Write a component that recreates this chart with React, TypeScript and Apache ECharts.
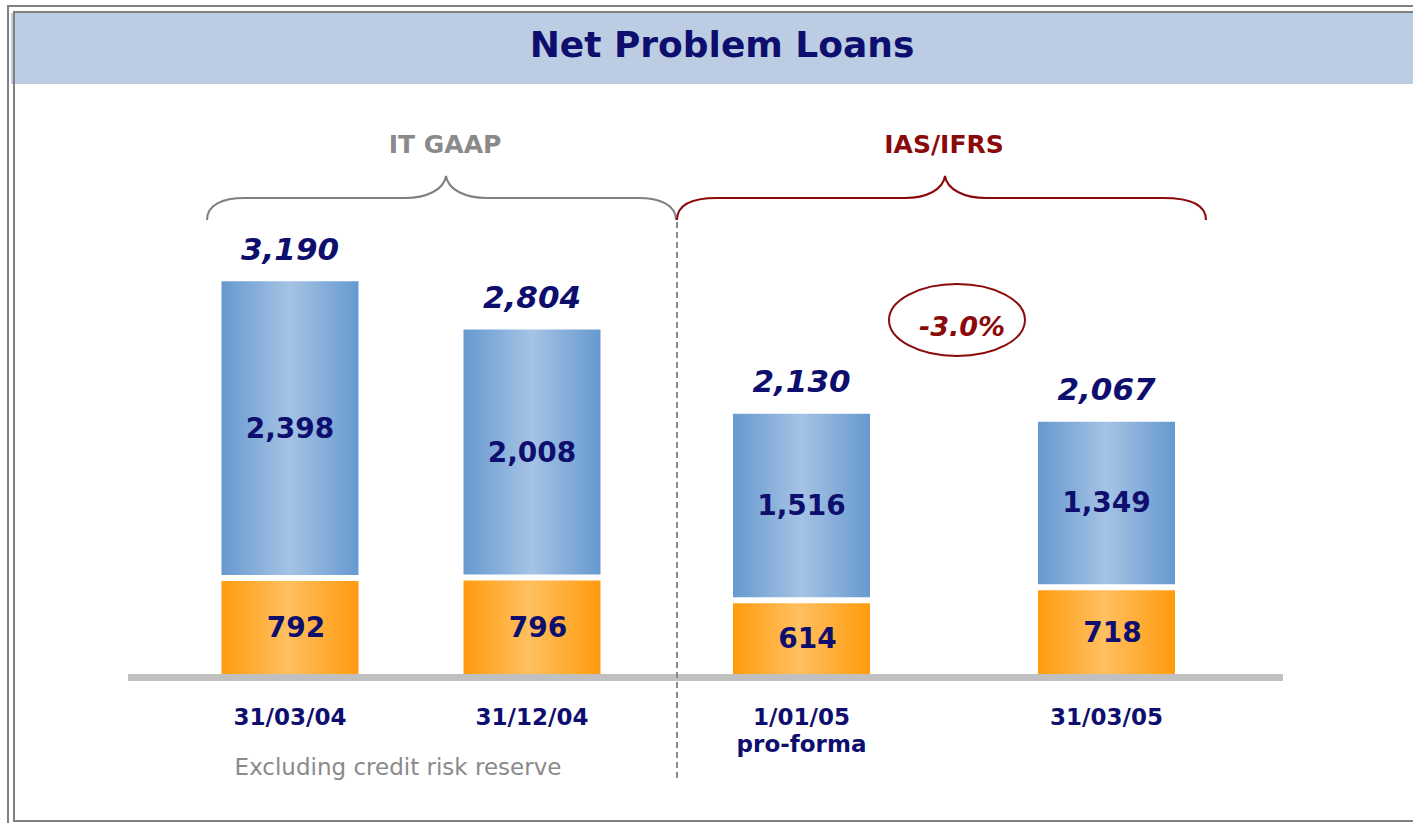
import React, { useEffect, useRef } from "react";
import * as echarts from "echarts";

// ---- data ----
const titleText = "Net Problem Loans";
const groupLabels = ["IT GAAP", "IAS/IFRS"];
const categoriesGAAP = ["31/03/04", "31/12/04"];
const categoriesIFRS = ["1/01/05\npro-forma", "31/03/05"];
const bottomGAAP = [792, 796];
const topGAAP = [2398, 2008];
const bottomIFRS = [614, 718];
const topIFRS = [1516, 1349];
const changeLabel = "-3.0%";
const noteText = "Excluding credit risk reserve";

const NAVY = "#0e0e6e";
const DARKRED = "#8a0a0a";
const GRAY = "#8a8a8a";
const FONT = "DejaVu Sans";

const BRACE_GRAY =
  "M207,220 C207,205 222,198 245,198 L405,198 C426,198 444,190 446,176 C448,190 466,198 487,198 L638,198 C660,198 676,205 676,220";
const BRACE_RED =
  "M677,220 C677,205 692,198 717,198 L905,198 C926,198 943,190 945,176 C947,190 965,198 986,198 L1163,198 C1190,198 1206,205 1206,220";
echarts.graphic.registerShape("braceGray", echarts.graphic.extendPath(BRACE_GRAY, {}));
echarts.graphic.registerShape("braceRed", echarts.graphic.extendPath(BRACE_RED, {}));

const blueGrad = {
  type: "linear", x: 0, y: 0, x2: 1, y2: 0,
  colorStops: [
    { offset: 0, color: "#6598cf" },
    { offset: 0.5, color: "#a5c3e4" },
    { offset: 1, color: "#6598cf" },
  ],
};
const orangeGrad = {
  type: "linear", x: 0, y: 0, x2: 1, y2: 0,
  colorStops: [
    { offset: 0, color: "#ff9a0c" },
    { offset: 0.48, color: "#ffc060" },
    { offset: 1, color: "#ff9a0c" },
  ],
};

function seriesFor(idx: number, bottom: number[], top: number[]) {
  const totals = bottom.map((v, i) => v + top[i]);
  const fmt = (p: any) => Number(p.value).toLocaleString("en-US");
  return [
    {
      type: "bar", stack: "s" + idx, xAxisIndex: idx, yAxisIndex: idx,
      data: bottom, barWidth: 143,
      itemStyle: { color: orangeGrad, borderColor: "#ffffff", borderWidth: 3 },
      label: {
        show: true, position: "inside", offset: [6, 0], formatter: fmt,
        color: NAVY, fontFamily: FONT, fontWeight: "bold", fontSize: 28,
      },
    },
    {
      type: "bar", stack: "s" + idx, xAxisIndex: idx, yAxisIndex: idx,
      data: top, barWidth: 143,
      itemStyle: { color: blueGrad, borderColor: "#ffffff", borderWidth: 3 },
      label: {
        show: true, position: "inside", formatter: fmt,
        color: NAVY, fontFamily: FONT, fontWeight: "bold", fontSize: 28,
      },
    },
    {
      type: "scatter", xAxisIndex: idx, yAxisIndex: idx,
      data: totals, symbolSize: 0, z: 5,
      itemStyle: { opacity: 1 },
      label: {
        show: true, position: "top", distance: 14, formatter: fmt, opacity: 1,
        color: NAVY, fontFamily: FONT, fontWeight: "bold", fontStyle: "italic", fontSize: 31,
      },
    },
  ];
}

export default function App() {
  const ref = useRef<HTMLDivElement>(null);
  useEffect(() => {
    const chart = echarts.init(ref.current!, null, { renderer: "svg" });
    const xAxisCommon = {
      type: "category",
      axisLine: { show: false },
      axisTick: { show: false },
      axisLabel: {
        margin: 26, color: NAVY, fontFamily: FONT, fontWeight: "bold",
        fontSize: 23, lineHeight: 27,
      },
    };
    const yAxisCommon = { type: "value", min: 0, max: 4000, show: false, splitLine: { show: false } };
    chart.setOption({
      animation: false,
      backgroundColor: "#ffffff",
      grid: [
        { left: 169, width: 484, top: 177, bottom: 146 },
        { left: 649, width: 610, top: 177, bottom: 146 },
      ],
      xAxis: [
        { ...xAxisCommon, gridIndex: 0, data: categoriesGAAP },
        { ...xAxisCommon, gridIndex: 1, data: categoriesIFRS },
      ],
      yAxis: [
        { ...yAxisCommon, gridIndex: 0 },
        { ...yAxisCommon, gridIndex: 1 },
      ],
      series: [...seriesFor(0, bottomGAAP, topGAAP), ...seriesFor(1, bottomIFRS, topIFRS)],
      graphic: [
        // frame
        { type: "line", z: 100, shape: { x1: 7, y1: 6, x2: 1413, y2: 6 }, style: { stroke: "#808080", lineWidth: 2 } },
        { type: "line", z: 100, shape: { x1: 8, y1: 5, x2: 8, y2: 823 }, style: { stroke: "#808080", lineWidth: 2 } },
        { type: "rect", z: 99, shape: { x: 11, y: 13, width: 1402, height: 71 }, style: { fill: "#bccde3" } },
        { type: "line", z: 100, shape: { x1: 13, y1: 12, x2: 1413, y2: 12 }, style: { stroke: "#808080", lineWidth: 2 } },
        { type: "line", z: 100, shape: { x1: 14, y1: 11, x2: 14, y2: 822 }, style: { stroke: "#808080", lineWidth: 2 } },
        { type: "line", z: 100, shape: { x1: 13, y1: 821, x2: 1413, y2: 821 }, style: { stroke: "#808080", lineWidth: 2 } },
        {
          type: "text", z: 101, x: 722, y: 44,
          style: { text: titleText, fill: NAVY, font: `bold 36px "${FONT}"`, align: "center", verticalAlign: "middle" },
        },
        // baseline
        { type: "line", z: 100, shape: { x1: 128, y1: 677.5, x2: 1283, y2: 677.5 }, style: { stroke: "#c0c0c0", lineWidth: 7 } },
        // divider
        {
          type: "line", z: 101, shape: { x1: 677, y1: 222, x2: 677, y2: 782 },
          style: { stroke: GRAY, lineWidth: 2, lineDash: [6, 4] },
        },
        // braces
        { type: "braceGray", z: 100, x: 0, y: 0, style: { fill: null, stroke: "#808080", lineWidth: 2 } },
        { type: "braceRed", z: 100, x: 0, y: 0, style: { fill: null, stroke: DARKRED, lineWidth: 2 } },
        {
          type: "text", z: 101, x: 445, y: 144,
          style: { text: groupLabels[0], fill: GRAY, font: `bold 25px "${FONT}"`, align: "center", verticalAlign: "middle" },
        },
        {
          type: "text", z: 101, x: 944, y: 144,
          style: { text: groupLabels[1], fill: DARKRED, font: `bold 25px "${FONT}"`, align: "center", verticalAlign: "middle" },
        },
        // change ellipse
        {
          type: "ellipse", z: 100, shape: { cx: 957, cy: 320, rx: 68, ry: 36 },
          style: { fill: null, stroke: DARKRED, lineWidth: 2 },
        },
        {
          type: "text", z: 101, x: 962, y: 326,
          style: { text: changeLabel, fill: DARKRED, font: `italic bold 27px "${FONT}"`, align: "center", verticalAlign: "middle" },
        },
        // note
        {
          type: "text", z: 101, x: 398, y: 767,
          style: { text: noteText, fill: GRAY, font: `23px "${FONT}"`, align: "center", verticalAlign: "middle" },
        },
      ],
    });
    return () => chart.dispose();
  }, []);
  return (
    <div
      ref={ref}
      style={{ position: "fixed", left: 0, top: 0, width: 1413, height: 823, background: "#fff" }}
    />
  );
}
